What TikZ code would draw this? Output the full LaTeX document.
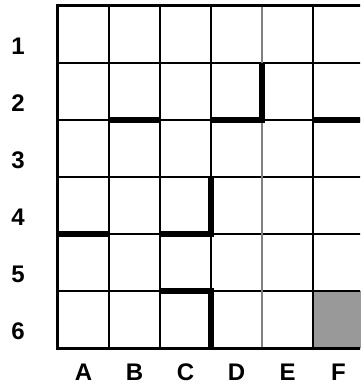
\documentclass[tikz,border=0pt]{standalone}
\usepackage{fontspec}
\setmainfont{Liberation Sans}
\begin{document}
\begin{tikzpicture}[x=51pt, y=-57pt,
    wall/.style={line width=5.5pt, line cap=square},
    lbl/.style={font=\fontsize{24}{26}\selectfont\bfseries}]
    \useasboundingbox (-1.137,-0.105) rectangle (5.922,6.649);

    % Cella F6 in grigio
    \fill[gray!80] (5,5) rectangle (6,6);

    % Griglia
    \begin{scope}
        \clip (-1.137,-0.105) rectangle (5.922,6.649);
        \foreach \k in {1,...,5} {
            \draw[line width=1.6pt] (\k,0) -- (\k,6);
            \draw[line width=1.6pt] (0,\k) -- (6,\k);
        }
        \draw[line width=1.6pt, gray] (4,0) -- (4,6);
        \draw[line width=3pt] (6,0) -- (0,0) -- (0,6) -- (6,6);

        % Muri
        \draw[wall] (1,2) -- (2,2);
        \draw[wall] (3,2) -- (4,2) -- (4,1);
        \draw[wall] (5,2) -- (6.2,2);
        \draw[wall] (0,4) -- (1,4);
        \draw[wall] (2,4) -- (3,4) -- (3,3);
        \draw[wall] (2,5) -- (3,5) -- (3,6);
    \end{scope}

    % Righe
    \foreach \r in {1,...,6}
        \node[lbl] (r\r) at (-0.784, \r-0.29) {\r};

    % Colonne
    \foreach \c [count=\i from 0] in {A,B,C,D,E,F}
        \node[lbl] (c\c) at (\i+0.5, 6.42) {\c};
\end{tikzpicture}
\end{document}
